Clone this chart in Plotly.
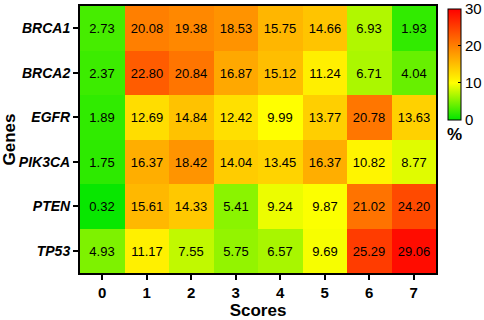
import plotly.graph_objects as go

genes = ["BRCA1", "BRCA2", "EGFR", "PIK3CA", "PTEN", "TP53"]
scores = ["0", "1", "2", "3", "4", "5", "6", "7"]
values = [
    [2.73, 20.08, 19.38, 18.53, 15.75, 14.66, 6.93, 1.93],
    [2.37, 22.80, 20.84, 16.87, 15.12, 11.24, 6.71, 4.04],
    [1.89, 12.69, 14.84, 12.42, 9.99, 13.77, 20.78, 13.63],
    [1.75, 16.37, 18.42, 14.04, 13.45, 16.37, 10.82, 8.77],
    [0.32, 15.61, 14.33, 5.41, 9.24, 9.87, 21.02, 24.20],
    [4.93, 11.17, 7.55, 5.75, 6.57, 9.69, 25.29, 29.06],
]
cbar_ticks = [0, 10, 20, 30]
cbar_labels = ["0", "10", "20", "30"]

text = [[f"{v:.2f}" for v in row] for row in values]

fig = go.Figure(go.Heatmap(
    z=values, x=scores, y=genes, text=text, texttemplate="%{text}",
    textfont=dict(family="Liberation Sans", size=13, color="black"),
    zmin=0, zmax=30,
    colorscale=[[0, "rgb(0,230,0)"], [1/3, "rgb(255,255,0)"], [2/3, "rgb(255,128,0)"], [1, "rgb(255,0,0)"]],
    xgap=0, ygap=0,
    colorbar=dict(
        x=1.033, xanchor="left", xpad=0, y=0.99, yanchor="top", ypad=0,
        len=0.415, lenmode="fraction",
        thickness=13, outlinecolor="black", outlinewidth=1,
        tickvals=cbar_ticks, ticktext=cbar_labels, ticks="inside", ticklen=3, tickcolor="black",
        ticklabeloverflow="allow",
        tickfont=dict(family="Liberation Sans", size=15, color="black"),
    ),
))

fig.update_xaxes(
    type="category", ticks="outside", ticklen=5, tickwidth=2, tickcolor="black",
    tickfont=dict(family="Liberation Sans", size=15, color="black", weight="bold"),
    title=dict(text="Scores", font=dict(family="Liberation Sans", size=17, color="black", weight="bold"), standoff=4),
    showline=True, linecolor="black", linewidth=2, mirror=True,
)
fig.update_yaxes(
    type="category", autorange="reversed", ticks="outside", ticklen=5, tickwidth=2, tickcolor="black",
    tickfont=dict(family="Liberation Sans", size=14, color="black", weight="bold", style="italic"),
    title=dict(text="Genes", font=dict(family="Liberation Sans", size=17, color="black", weight="bold"), standoff=6),
    showline=True, linecolor="black", linewidth=2, mirror=True,
)
fig.add_annotation(text="<b>%</b>", x=1.053, y=0.56, xref="paper", yref="paper",
                   showarrow=False, xanchor="center", yanchor="top",
                   font=dict(family="Liberation Sans", size=17, color="black"))
fig.update_layout(
    width=484, height=320, margin=dict(l=80, r=48, t=6, b=47, autoexpand=False),
    paper_bgcolor="white", plot_bgcolor="white",
)
fig.write_html("out.html", config={"displayModeBar": False},
               post_script="document.body.style.margin='0';document.body.style.overflow='hidden';")
